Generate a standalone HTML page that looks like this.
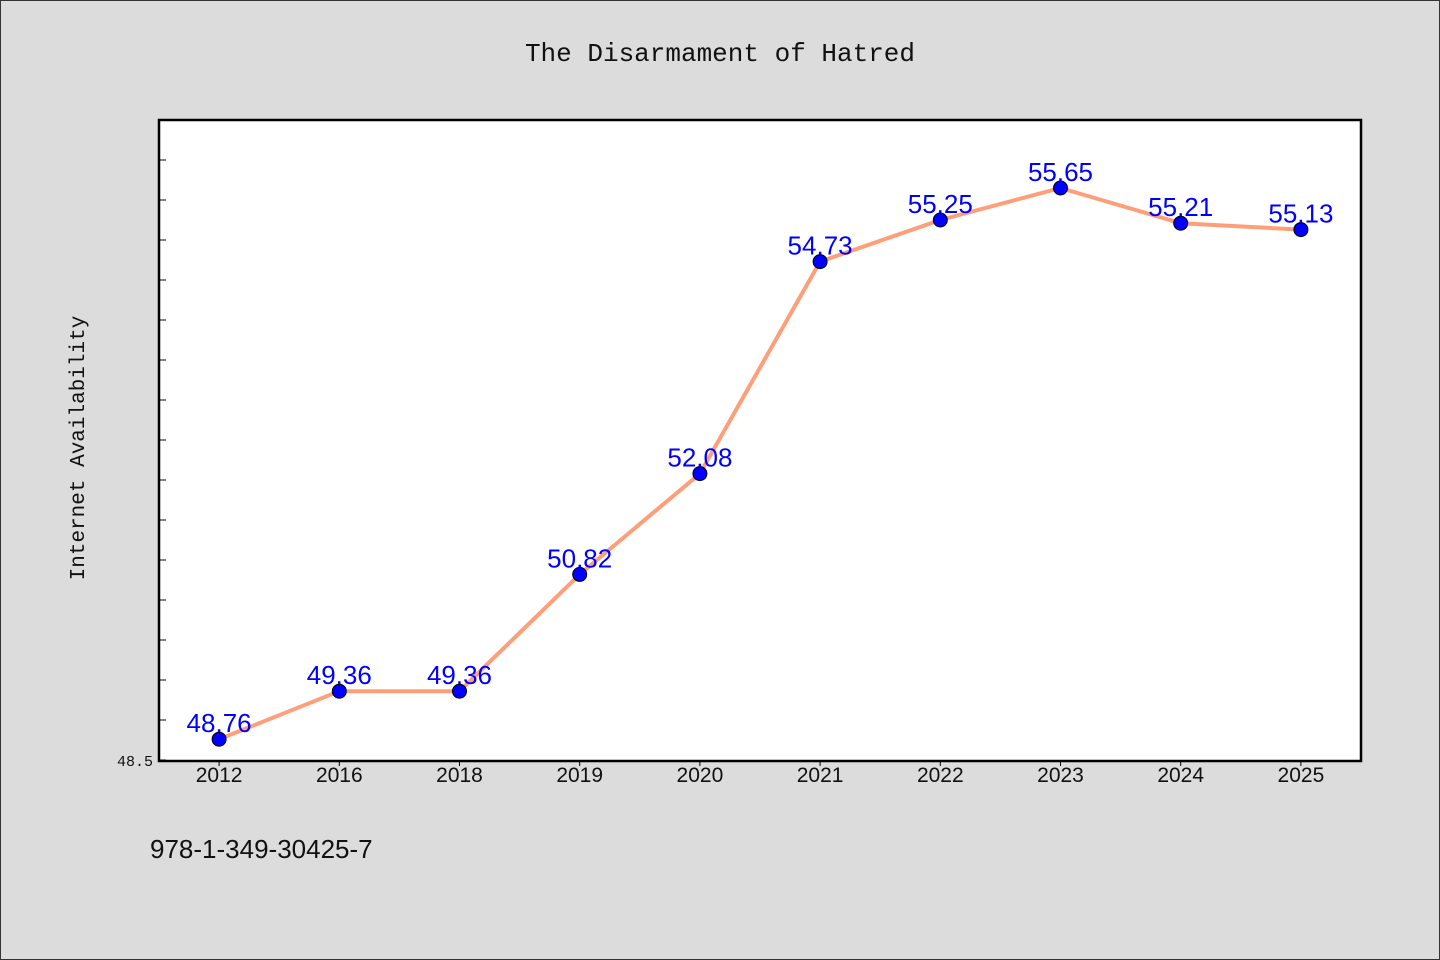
<!DOCTYPE html>
<html><head><meta charset="utf-8"><style>
body{margin:0;background:#dcdcdc;}
svg{display:block;}
</style></head><body>
<svg width="1440" height="960" xmlns="http://www.w3.org/2000/svg">
<rect x="0.5" y="0.5" width="1439" height="959" fill="#dcdcdc" stroke="#333"/>
<text x="720" y="61" text-anchor="middle" font-family="'WenQuanYi Zen Hei','Liberation Mono',monospace" font-size="26" fill="#111">The Disarmament of Hatred</text>
<rect x="159" y="120" width="1202" height="641" fill="#fff" stroke="#000" stroke-width="2.5"/>
<text transform="translate(84,448) rotate(-90)" text-anchor="middle" font-family="'WenQuanYi Zen Hei','Liberation Mono',monospace" font-size="21" fill="#111">Internet Availability</text>
<text x="150" y="858" font-family="'WenQuanYi Zen Hei','Liberation Sans',sans-serif" font-size="26" fill="#111">978-1-349-30425-7</text>
<g id="ticks"></g><g id="xlabels"></g><g id="series"></g>
</svg>
<script>
const categories=["2012","2016","2018","2019","2020","2021","2022","2023","2024","2025"];
const values=[48.76,49.36,49.36,50.82,52.08,54.73,55.25,55.65,55.21,55.13];
const valueLabels=["48.76","49.36","49.36","50.82","52.08","54.73","55.25","55.65","55.21","55.13"];
const yMin=48.5,yMax=56.5;
const L=159,R=1361,T=120,B=760;
const NS="http://www.w3.org/2000/svg";
function y(v){return B-(v-yMin)/(yMax-yMin)*(B-T);}
function x(i){const w=(R-L)/categories.length;return L+w/2+i*w;}
function mk(t,a,p){const e=document.createElementNS(NS,t);for(const k in a)e.setAttribute(k,a[k]);p.appendChild(e);return e;}
const tk=document.getElementById('ticks');
for(let v=yMin;v<=yMax+1e-9;v+=0.5){
 const l=mk('line',{x1:159,x2:166,y1:y(v),y2:y(v),stroke:'#000','stroke-width':1},tk);
 
 
}
const yl=mk('text',{x:153,y:766,'text-anchor':'end','font-family':"'Liberation Mono',monospace",'font-size':15,fill:'#111'},tk);
yl.textContent="48.5";


const xl=document.getElementById('xlabels');
categories.forEach((c,i)=>{
 const t=mk('line',{x1:x(i),x2:x(i),y1:B,y2:B+6,stroke:'#000'},xl);
 
 
 const e=mk('text',{x:x(i),y:782,'text-anchor':'middle','font-family':"'WenQuanYi Zen Hei','Liberation Sans',sans-serif",'font-size':21,fill:'#111'},xl);
 e.textContent=c;
 
 
});
const s=document.getElementById('series');
const pl=mk('polyline',{points:values.map((v,i)=>x(i)+','+y(v)).join(' '),fill:'none',stroke:'#ff9f7a','stroke-width':4,'stroke-linejoin':'round'},s);


values.forEach((v,i)=>{
 const c=mk('circle',{cx:x(i),cy:y(v),r:7,fill:'#0000ff',stroke:'#000','stroke-width':1},s);
 
 
 const t=mk('text',{x:x(i),y:y(v)-7,'text-anchor':'middle','font-family':"'WenQuanYi Zen Hei','Liberation Sans',sans-serif",'font-size':26,fill:'#0000ff'},s);
 t.textContent=valueLabels[i];
 
 
});
</script>
</body></html>
